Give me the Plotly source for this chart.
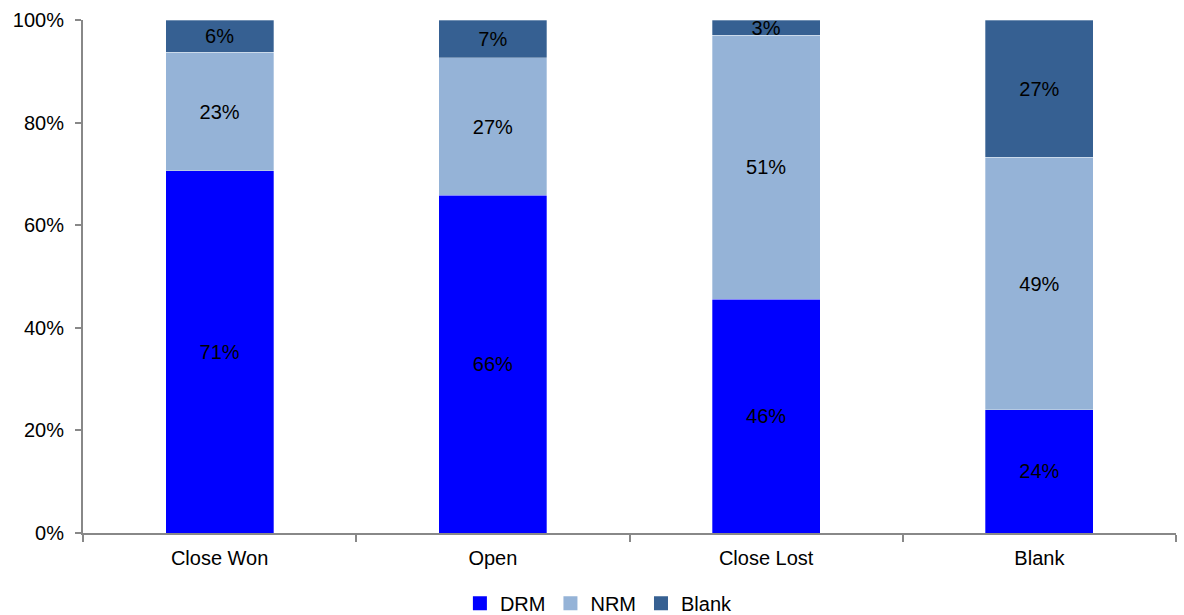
import plotly.graph_objects as go

categories = ["Close Won", "Open", "Close Lost", "Blank"]
drm = [70.6, 65.8, 45.6, 24.0]
nrm = [23.1, 26.8, 51.4, 49.2]
blank = [6.3, 7.4, 3.0, 26.8]

series = [("DRM", drm, "#0000FF"), ("NRM", nrm, "#95B3D7"), ("Blank", blank, "#366092")]
FONT = "Liberation Sans, Arial"

fig = go.Figure()
for name, vals, col in series:
    fig.add_trace(go.Bar(
        name=name, x=categories, y=vals, showlegend=False,
        marker=dict(color=col, line=dict(color="rgba(255,255,255,0.6)", width=0.5)),
        text=[f"{round(v)}%" for v in vals],
        textposition="inside", insidetextanchor="middle", textangle=0,
        textfont=dict(family=FONT, size=20, color="black"),
        cliponaxis=False,
    ))
for name, vals, col in series:
    fig.add_trace(go.Scatter(
        name=name, x=[None], y=[None], mode="markers",
        marker=dict(symbol="square", size=14, color=col),
    ))

axis_col = "#888888"
fig.update_layout(
    barmode="stack", bargap=0.605,
    width=1184, height=615,
    margin=dict(l=83, r=8, t=20, b=82, autoexpand=False),
    paper_bgcolor="white", plot_bgcolor="white",
    font=dict(family=FONT, size=20, color="black"),
    uniformtext=dict(minsize=20, mode="show"),
    legend=dict(orientation="h", x=0.472, xanchor="center", y=-0.137, yanchor="middle",
                font=dict(size=20), itemwidth=30, traceorder="normal", tracegroupgap=0),
    showlegend=True,
)
fig.update_yaxes(range=[0, 100], dtick=20, ticksuffix="%", showgrid=False,
                 showline=True, linecolor=axis_col, linewidth=2,
                 ticks="outside", ticklen=6, tickcolor=axis_col, tickwidth=2,
                 ticklabelstandoff=7, zeroline=False, automargin=False)
fig.update_xaxes(showgrid=False, showline=True, linecolor=axis_col, linewidth=2,
                 ticks="outside", ticklen=7, tickcolor=axis_col, tickwidth=2,
                 tickson="boundaries", ticklabelstandoff=6, automargin=False)
fig.write_html("out.html")
